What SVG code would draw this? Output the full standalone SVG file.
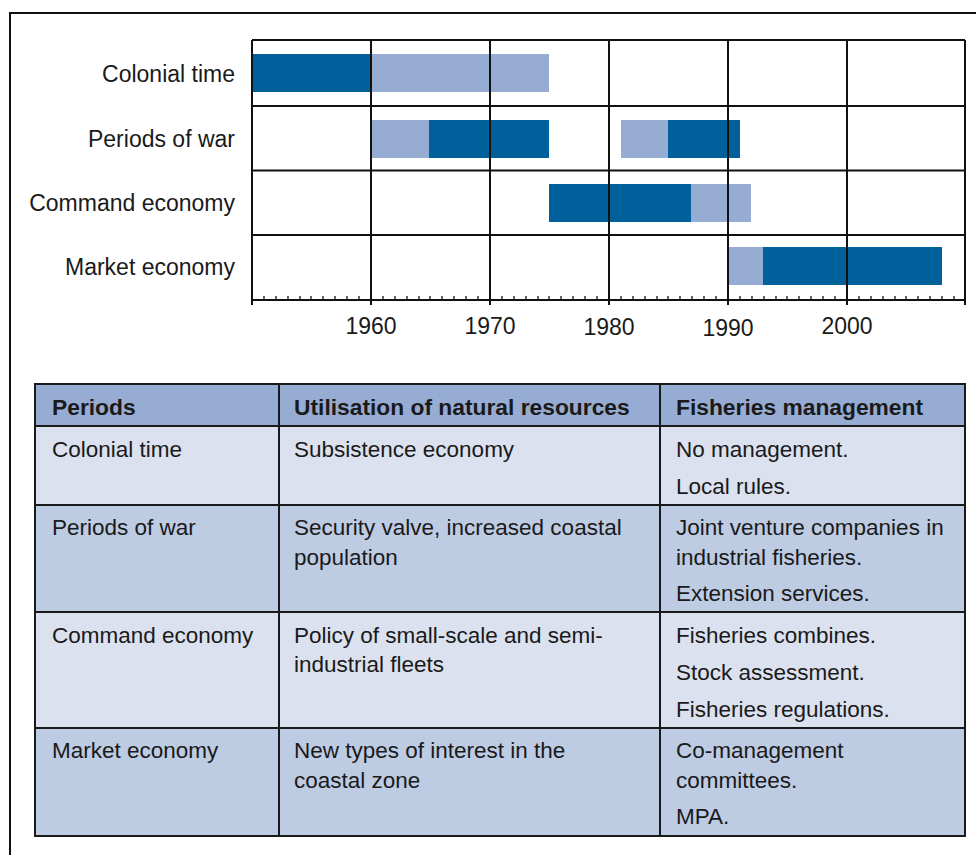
<svg xmlns="http://www.w3.org/2000/svg" width="976" height="855" viewBox="0 0 976 855">
<style>
text{font-family:"Liberation Sans",Arial,sans-serif;fill:#1a1a1a;font-size:22.5px}
.r{text-anchor:end;font-size:23px}
.c{text-anchor:middle;font-size:23px}
.h{font-weight:bold;font-size:22.8px}
.dk{fill:#00609c}
.lt{fill:#97acd2}
.grid{stroke:#111;stroke-width:2;fill:none}
.tick{stroke:#111;stroke-width:1.3}
.tb{stroke:#1a1a1a;stroke-width:2;fill:none}
</style>
<rect x="0" y="0" width="976" height="855" fill="#fff"/>
<path d="M10,860 V13 H980" fill="none" stroke="#111" stroke-width="2"/>

<g id="chart">
  <g id="bars">
    <rect class="dk" x="252" y="54" width="119" height="38"/>
    <rect class="lt" x="371" y="54" width="178" height="38"/>
    <rect class="lt" x="371" y="120" width="58" height="38"/>
    <rect class="dk" x="429" y="120" width="120" height="38"/>
    <rect class="lt" x="621" y="120" width="47" height="38"/>
    <rect class="dk" x="668" y="120" width="72" height="38"/>
    <rect class="dk" x="549" y="184" width="142" height="38"/>
    <rect class="lt" x="691" y="184" width="60" height="38"/>
    <rect class="lt" x="728" y="247" width="35" height="38"/>
    <rect class="dk" x="763" y="247" width="179" height="38"/>
  </g>
  <g id="grid">
    <path class="grid" d="M252,40 H965 M252,106 H965 M252,170.5 H965 M252,235 H965 M252,300 H965"/>
    <path class="grid" d="M252,40 V305 M371,40 V305 M490,40 V305 M609,40 V305 M728,40 V305 M847,40 V305 M965,40 V305"/>
    <path class="tick" d="M264,300v-4M276,300v-4M288,300v-4M300,300v-4M311,300v-4M323,300v-4M335,300v-4M347,300v-4M359,300v-4
M383,300v-4M395,300v-4M407,300v-4M419,300v-4M430,300v-4M442,300v-4M454,300v-4M466,300v-4M478,300v-4
M502,300v-4M514,300v-4M526,300v-4M538,300v-4M549,300v-4M561,300v-4M573,300v-4M585,300v-4M597,300v-4
M621,300v-4M633,300v-4M645,300v-4M657,300v-4M668,300v-4M680,300v-4M692,300v-4M704,300v-4M716,300v-4
M740,300v-4M752,300v-4M764,300v-4M776,300v-4M787,300v-4M799,300v-4M811,300v-4M823,300v-4M835,300v-4
M859,300v-4M871,300v-4M883,300v-4M895,300v-4M906,300v-4M918,300v-4M930,300v-4M942,300v-4M954,300v-4"/>
  </g>
  <g id="axis-labels">
    <text class="c" x="371" y="334">1960</text>
    <text class="c" x="490" y="334">1970</text>
    <text class="c" x="609" y="335">1980</text>
    <text class="c" x="728" y="336">1990</text>
    <text class="c" x="847" y="334">2000</text>
  </g>
  <g id="row-labels">
    <text class="r" x="235" y="82">Colonial time</text>
    <text class="r" x="235" y="147">Periods of war</text>
    <text class="r" x="235" y="211">Command economy</text>
    <text class="r" x="235" y="275">Market economy</text>
  </g>
</g>

<g id="table">
  <rect x="35" y="384" width="930" height="42" fill="#97acd2"/>
  <rect x="35" y="426" width="930" height="79" fill="#dbe1ee"/>
  <rect x="35" y="505" width="930" height="107" fill="#bdcbe3"/>
  <rect x="35" y="612" width="930" height="116" fill="#dbe1ee"/>
  <rect x="35" y="728" width="930" height="108" fill="#bdcbe3"/>
  <path class="tb" d="M35,384 H965 V836 H35 Z M35,426 H965 M35,505 H965 M35,612 H965 M35,728 H965 M279,384 V836 M660,384 V836"/>
  <g id="header">
    <text class="h" x="52" y="415">Periods</text>
    <text class="h" x="294" y="415">Utilisation of natural resources</text>
    <text class="h" x="676" y="415">Fisheries management</text>
  </g>
  <g id="row-colonial">
    <text x="52" y="457">Colonial time</text>
    <text x="294" y="457">Subsistence economy</text>
    <text x="676" y="457">No management.</text>
    <text x="676" y="494">Local rules.</text>
  </g>
  <g id="row-war">
    <text x="52" y="535">Periods of war</text>
    <text x="294" y="535">Security valve, increased coastal</text>
    <text x="294" y="565">population</text>
    <text x="676" y="535">Joint venture companies in</text>
    <text x="676" y="565">industrial fisheries.</text>
    <text x="676" y="601">Extension services.</text>
  </g>
  <g id="row-command">
    <text x="52" y="643">Command economy</text>
    <text x="294" y="643">Policy of small-scale and semi-</text>
    <text x="294" y="672">industrial fleets</text>
    <text x="676" y="643">Fisheries combines.</text>
    <text x="676" y="680">Stock assessment.</text>
    <text x="676" y="717">Fisheries regulations.</text>
  </g>
  <g id="row-market">
    <text x="52" y="758">Market economy</text>
    <text x="294" y="758">New types of interest in the</text>
    <text x="294" y="788">coastal zone</text>
    <text x="676" y="758">Co-management</text>
    <text x="676" y="788">committees.</text>
    <text x="676" y="824">MPA.</text>
  </g>
</g>
</svg>
